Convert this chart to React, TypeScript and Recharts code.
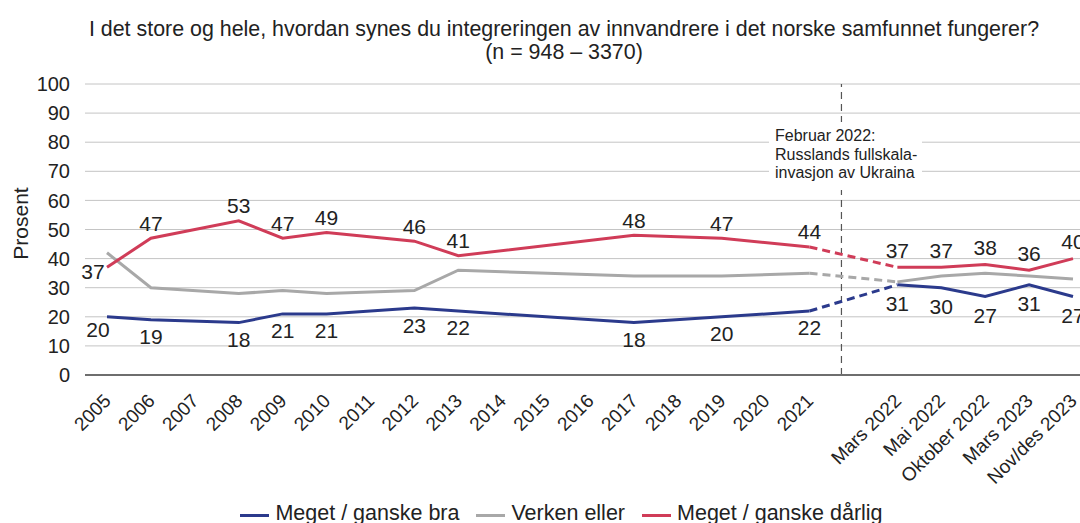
import React from "react";
import { CartesianGrid, LabelList, Legend, Line, LineChart, ReferenceLine, XAxis, YAxis } from "recharts";

const YEARS = ["2005", "2006", "2007", "2008", "2009", "2010", "2011", "2012", "2013", "2014", "2015", "2016", "2017", "2018", "2019", "2020", "2021"];
const WAVES = ["Mars 2022", "Mai 2022", "Oktober 2022", "Mars 2023", "Nov/des 2023"];
const CATEGORIES = [...YEARS, "", ...WAVES];

// one value per category, null where no survey was run
const BRA = [20, 19, null, 18, 21, 21, null, 23, 22, null, null, null, 18, null, 20, null, 22, null, 31, 30, 27, 31, 27];
const VERKEN = [42, 30, null, 28, 29, 28, null, 29, 36, null, null, null, 34, null, 34, null, 35, null, 32, 34, 35, 34, 33];
const DARLIG = [37, 47, null, 53, 47, 49, null, 46, 41, null, null, null, 48, null, 47, null, 44, null, 37, 37, 38, 36, 40];

const Y_TICKS = [0, 10, 20, 30, 40, 50, 60, 70, 80, 90, 100];

const SERIES = [
  { key: "bra", name: "Meget / ganske bra", values: BRA, color: "#2b3a8c", label: "below" },
  { key: "verken", name: "Verken eller", values: VERKEN, color: "#a8a8a8", label: null },
  { key: "darlig", name: "Meget / ganske dårlig", values: DARLIG, color: "#d03c58", label: "above" },
];

const LAST_YEAR = YEARS.length - 1;
const FIRST_WAVE = YEARS.length + 1;

const data = CATEGORIES.map((cat, i) => {
  const row: Record<string, any> = { cat };
  SERIES.forEach((s) => {
    const v = s.values[i];
    row[s.key + "_a"] = i <= LAST_YEAR ? v : null;
    row[s.key + "_b"] = i === LAST_YEAR || i === FIRST_WAVE ? v : null;
    row[s.key + "_c"] = i >= FIRST_WAVE ? v : null;
  });
  return row;
});

const FONT = '"Liberation Sans", Arial, sans-serif';
const TEXT = "#222";

const makeLabel = (where: string, offset: number) => (props: any) => {
  const { x, y, value, index } = props;
  if (value == null) return null;
  let dx = 0;
  let dy = where === "above" ? -15 : 17;
  if (index === 0) {
    dx = where === "above" ? -14 : -9;
    dy = where === "above" ? 4 : 13;
  }
  return (
    <text x={x + dx} y={y + dy + offset} textAnchor="middle" dominantBaseline="central" fontSize={21} fill={TEXT} fontFamily={FONT}>
      {value}
    </text>
  );
};

const XTick = ({ x, y, payload }: any) => (
  <g transform={`translate(${x + 5},${y + 27})`}>
    <text textAnchor="end" transform="rotate(-45)" fontSize={19} fill={TEXT} fontFamily={FONT}>
      {payload.value}
    </text>
  </g>
);

const LegendContent = () => (
  <div style={{ width: 1100, display: "flex", justifyContent: "center", alignItems: "center", fontFamily: FONT, fontSize: 21.5, color: TEXT, paddingLeft: 40, boxSizing: "border-box", whiteSpace: "nowrap" }}>
    {SERIES.map((s) => (
      <div key={s.key} style={{ display: "flex", alignItems: "center", marginRight: 17, flexShrink: 0 }}>
        <span style={{ display: "inline-block", width: 29, height: 3, background: s.color, marginRight: 6, marginTop: 3 }} />
        <span>{s.name}</span>
      </div>
    ))}
  </div>
);

const ProsentLabel = ({ viewBox }: any) => {
  const cx = 20;
  const cy = viewBox.y + viewBox.height / 2 - 6;
  return (
    <text x={cx} y={cy} transform={`rotate(-90, ${cx}, ${cy})`} textAnchor="middle" dominantBaseline="central" fontSize={21} fill={TEXT} fontFamily={FONT}>
      Prosent
    </text>
  );
};

export default function App() {
  return (
    <div style={{ position: "absolute", left: 0, top: 0, width: 1080, height: 523, overflow: "hidden", background: "#fff", fontFamily: FONT }}>
      <div style={{ position: "absolute", left: 0, top: 18, width: 1128, textAlign: "center", fontSize: 21.4, lineHeight: "23px", color: TEXT }}>
        I det store og hele, hvordan synes du integreringen av innvandrere i det norske samfunnet fungerer?
        <br />
        (n = 948 – 3370)
      </div>
      <LineChart width={1100} height={523} data={data} margin={{ top: 84, right: 5, bottom: 0, left: 0 }}>
        <CartesianGrid vertical={false} stroke="#c4c4c4" strokeWidth={1} />
        <XAxis
          dataKey="cat"
          interval={0}
          padding={{ left: 22, right: 22 }}
          tickLine={false}
          tickSize={0}
          tickMargin={0}
          height={148}
          axisLine={{ stroke: "#6e6e6e", strokeWidth: 2 }}
          tick={<XTick />}
        />
        <YAxis
          domain={[0, 100]}
          ticks={Y_TICKS}
          width={85}
          axisLine={false}
          tickLine={false}
          tickSize={0}
          tickMargin={15}
          tick={{ fontSize: 20, fill: TEXT, fontFamily: FONT }}
          label={<ProsentLabel />}
        />
        <ReferenceLine
          x=""
          stroke="#555"
          strokeDasharray="7 5"
          strokeWidth={1.2}
          shape={(p: any) => <line x1={p.x1 - 12} y1={p.y1} x2={p.x2 - 12} y2={p.y2} stroke="#555" strokeWidth={1.2} strokeDasharray="7 5" />}
        />
        <Legend layout="horizontal" verticalAlign="middle" align="center" wrapperStyle={{ top: 501, left: 0, width: 1100 }} content={<LegendContent />} />
        {SERIES.map((s) => [
          <Line
            key={s.key + "_a"}
            dataKey={s.key + "_a"}
            name={s.name}
            stroke={s.color}
            strokeWidth={3}
            dot={false}
            activeDot={false}
            connectNulls
            isAnimationActive={false}
          >
            {s.label && <LabelList dataKey={s.key + "_a"} content={makeLabel(s.label, 0)} />}
          </Line>,
          <Line
            key={s.key + "_b"}
            dataKey={s.key + "_b"}
            legendType="none"
            stroke={s.color}
            strokeWidth={3}
            strokeDasharray="8 5"
            dot={false}
            activeDot={false}
            connectNulls
            isAnimationActive={false}
          />,
          <Line
            key={s.key + "_c"}
            dataKey={s.key + "_c"}
            legendType="none"
            stroke={s.color}
            strokeWidth={3}
            dot={false}
            activeDot={false}
            isAnimationActive={false}
          >
            {s.label && <LabelList dataKey={s.key + "_c"} content={makeLabel(s.label, s.label === "below" ? 2 : -2)} />}
          </Line>,
        ])}
      </LineChart>
      <div
        style={{
          position: "absolute",
          left: 769,
          top: 122,
          width: 153,
          height: 68,
          background: "#fff",
          boxSizing: "border-box",
          paddingLeft: 6,
          paddingTop: 5,
          fontSize: 16,
          lineHeight: "18.5px",
          color: TEXT,
        }}
      >
        Februar 2022:
        <br />
        Russlands fullskala-
        <br />
        invasjon av Ukraina
      </div>
    </div>
  );
}
